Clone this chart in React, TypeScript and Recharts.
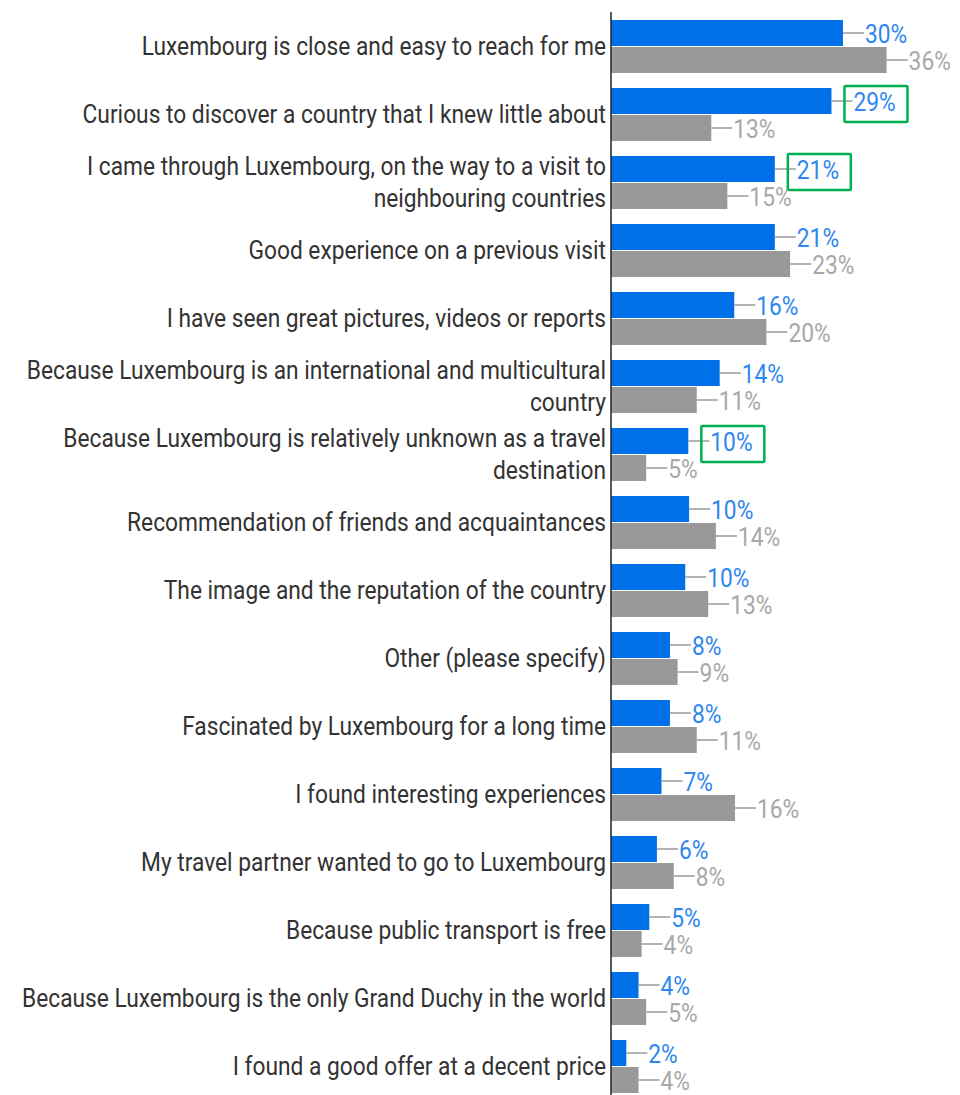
import React from 'react';
import { BarChart, Bar, XAxis, YAxis, LabelList } from 'recharts';

const categories = [
  'Luxembourg is close and easy to reach for me',
  'Curious to discover a country that I knew little about',
  'I came through Luxembourg, on the way to a visit to neighbouring countries',
  'Good experience on a previous visit',
  'I have seen great pictures, videos or reports',
  'Because Luxembourg is an international and multicultural country',
  'Because Luxembourg is relatively unknown as a travel destination',
  'Recommendation of friends and acquaintances',
  'The image and the reputation of the country',
  'Other (please specify)',
  'Fascinated by Luxembourg for a long time',
  'I found interesting experiences',
  'My travel partner wanted to go to Luxembourg',
  'Because public transport is free',
  'Because Luxembourg is the only Grand Duchy in the world',
  'I found a good offer at a decent price',
];

const blueValues = [30.3, 28.8, 21.4, 21.4, 16.1, 14.2, 10.1, 10.2, 9.7, 7.7, 7.7, 6.6, 6.0, 5.0, 3.6, 2.0];
const grayValues = [36.0, 13.1, 15.2, 23.4, 20.3, 11.2, 4.6, 13.7, 12.7, 8.7, 11.2, 16.2, 8.2, 4.0, 4.6, 3.6];
const highlightedBlue = [1, 2, 6];

const data = categories.map((name, i) => ({ name, blue: blueValues[i], gray: grayValues[i] }));

const FONT = 'Roboto, "Noto Sans", sans-serif';
const SX = 0.91;
const FS = 25;
const LINE_H = 33;
const MAX_W = 670;

let ctx: CanvasRenderingContext2D | null = null;
const measure = (s: string) => {
  try {
    if (!ctx) {
      const c = document.createElement('canvas');
      ctx = c.getContext('2d');
    }
    if (ctx) {
      ctx.font = `${FS}px Roboto`;
      return ctx.measureText(s).width;
    }
  } catch (e) {
    /* ignore */
  }
  return s.length * FS * 0.48;
};

const wrap = (s: string) => {
  const words = s.split(' ');
  const lines: string[] = [];
  let cur = '';
  words.forEach((w) => {
    const t = cur ? cur + ' ' + w : w;
    if (cur && measure(t) > MAX_W) {
      lines.push(cur);
      cur = w;
    } else {
      cur = t;
    }
  });
  if (cur) lines.push(cur);
  return lines;
};

const CategoryTick = (props: any) => {
  const { x, y, payload } = props;
  const lines = wrap(String(payload.value));
  const n = lines.length;
  return (
    <g transform={`translate(${x},${y}) scale(${SX},1)`}>
      <text textAnchor="end" fill="#333" fontSize={FS} fontFamily={FONT}>
        {lines.map((l, k) => (
          <tspan key={k} x={0} y={9 + (k - (n - 1) / 2) * LINE_H}>
            {l}
          </tspan>
        ))}
      </text>
    </g>
  );
};

const makeLabel = (color: string, highlights: number[]) => (props: any) => {
  const { x, y, width, height, value, index } = props;
  const x0 = Number(x) + Number(width);
  const cy = Number(y) + Number(height) / 2;
  const tx = x0 + 22;
  const hl = highlights.includes(index);
  return (
    <g>
      <line x1={x0} x2={x0 + 21} y1={cy} y2={cy} stroke="#9a9a9a" strokeWidth={1.5} />
      <text
        transform={`translate(${tx},${cy + 9.5}) scale(${SX},1)`}
        fill={color}
        fontSize={FS}
        fontFamily={FONT}
      >
        {Math.round(Number(value))}%
      </text>
      {hl && (
        <rect x={tx - 9} y={cy - 15} width={63} height={36} fill="none" stroke="#00b050" strokeWidth={2.5} rx={1} />
      )}
    </g>
  );
};

export default function App() {
  return (
    <div style={{ position: 'fixed', top: 0, left: 0, width: 960, height: 1100, background: '#fff' }}>
      <BarChart
        width={960}
        height={1100}
        data={data}
        layout="vertical"
        margin={{ top: 12, right: 4.5, bottom: 0, left: 0 }}
        barSize={26}
        barGap={1}
      >
        <XAxis type="number" domain={[0, 45]} hide />
        <YAxis
          type="category"
          dataKey="name"
          width={611}
          tickLine={false}
          tickSize={0}
          tickMargin={5}
          axisLine={{ stroke: '#222', strokeWidth: 1.5 }}
          tick={<CategoryTick />}
          interval={0}
        />
        <Bar dataKey="blue" name="Blue" fill="#0070e8" isAnimationActive={false}>
          <LabelList dataKey="blue" content={makeLabel('#2f86ee', highlightedBlue)} />
        </Bar>
        <Bar dataKey="gray" name="Gray" fill="#999999" isAnimationActive={false}>
          <LabelList dataKey="gray" content={makeLabel('#a8a8a8', [])} />
        </Bar>
      </BarChart>
    </div>
  );
}
